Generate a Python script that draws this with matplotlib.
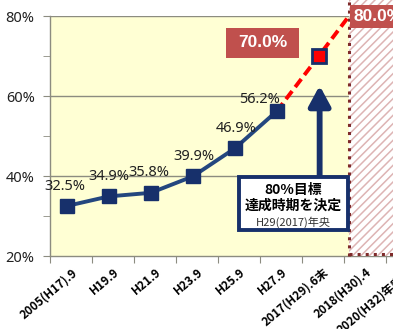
import numpy as np
import matplotlib
matplotlib.use("Agg")
import matplotlib.pyplot as plt
import matplotlib.patches as mpatches

plt.rcParams['font.family'] = ['Noto Sans', 'Noto Sans CJK JP', 'DejaVu Sans']
plt.rcParams['hatch.linewidth'] = 1.1

# survey periods on the x axis
periods = ['2005(H17).9', 'H19.9', 'H21.9', 'H23.9', 'H25.9', 'H27.9',
           '2017(H29).6末', '2018(H30).4', '2020(H32)年度末']
# measured rate (%)
actual = [32.5, 34.9, 35.8, 39.9, 46.9, 56.2]
# planned path: last measured value -> 70% -> 80%
target = [56.2, 70.0, 80.0]
target_pos = [5.4, 6.4, 7.12]
goal_label = '80.0%'
mid_label = '70.0%'
note_lines = ['80%目標', '達成時期を決定', 'H29(2017)年央']

navy = '#17306B'
line_blue = '#24477F'
box_red = '#C0504D'
jp = ['Noto Sans CJK JP', 'DejaVu Sans']
heavy = ['Liberation Sans', 'DejaVu Sans']

fig = plt.figure(figsize=(3.93, 3.29), dpi=100)
ax = fig.add_axes([50 / 393, 73 / 329, 378 / 393, 240 / 329])
ax.set_facecolor('#FFFFD4')

x = np.arange(len(actual)) + 0.4
ax.set_xlim(0, len(periods))
ax.set_ylim(20, 80)

# grid lines at 40/60/80
for gy in (40, 60, 80):
    ax.axhline(gy, color='#8C8C80', lw=1.0, zorder=1)

ax.plot(target_pos, target, color='#FF0000', lw=2.8, ls=(0, (2.6, 1.3)), zorder=3)
ax.plot(x, actual, color=line_blue, lw=2.8, marker='s', ms=10,
        mfc=navy, mec=navy, zorder=4)
ax.plot(target_pos[1], target[1], marker='s', ms=10, mfc='#FF0000',
        mec=navy, mew=2, zorder=5)

# value labels above the markers
offsets = [(-2, 20), (0, 20), (-2, 20), (1, 20), (1, 20), (-17, 12)]
for xi, v, (dx, dy) in zip(x, actual, offsets):
    ax.annotate(f'{v:.1f}%', (xi, v), xytext=(dx * 0.72, dy * 0.72),
                textcoords='offset points', ha='center', va='center',
                fontsize=10.5, color='#222222', zorder=6)

# hatched zone for the final target period
zone_x = target_pos[2]
zone = mpatches.Rectangle((zone_x, 20), 3, 64, facecolor='white',
                          edgecolor='#DDB4B4', hatch='////', lw=0,
                          clip_on=False, zorder=7)
ax.add_patch(zone)
ax.plot([zone_x, zone_x], [20, 84], color='#7F2A2A', lw=2.2, ls=':',
        clip_on=False, zorder=8)
ax.plot([zone_x, 9], [20.4, 20.4], color='#7F2A2A', lw=2.2, ls=':',
        clip_on=False, zorder=8)

# 80.0% label box
ax.add_patch(mpatches.Rectangle((zone_x + 0.02, 77.0), 3, 5.8, facecolor=box_red,
                                lw=0, clip_on=False, zorder=9))
ax.text(zone_x + 0.1, 79.9, goal_label, color='white', fontsize=12.5,
        fontweight='bold', family=heavy, ha='left', va='center',
        zorder=10, clip_on=False)

# 70.0% label box
ax.add_patch(mpatches.Rectangle((4.2, 69.5), 1.72, 7.5, facecolor=box_red,
                                lw=0, zorder=9))
ax.text(5.06, 73.3, mid_label, color='white', fontsize=12.5,
        fontweight='bold', family=heavy, ha='center', va='center', zorder=10)

# arrow up to the 70% point
ax.annotate('', xy=(6.42, 62.6), xytext=(6.42, 39.8),
            arrowprops=dict(arrowstyle='-|>,head_length=1.2,head_width=0.65',
                            color=navy, lw=4.2, shrinkA=0, shrinkB=0),
            zorder=9)

# note box below the arrow
ax.add_patch(mpatches.Rectangle((4.5, 26.5), 2.6, 13.3, facecolor='white',
                                edgecolor=navy, lw=2.8, zorder=9))
ax.text(5.8, 36.5, note_lines[0], fontsize=10, fontweight='bold',
        ha='center', va='center', zorder=10, family=jp)
ax.text(5.8, 32.6, note_lines[1], fontsize=10, fontweight='bold',
        ha='center', va='center', zorder=10, family=jp)
ax.text(5.8, 28.5, note_lines[2], fontsize=8, color='#333333',
        ha='center', va='center', zorder=10, family=jp)

# axes styling
for side in ('top', 'right'):
    ax.spines[side].set_visible(False)
for side in ('left', 'bottom'):
    ax.spines[side].set_color('#8C8C80')
    ax.spines[side].set_linewidth(1.0)

ax.set_yticks([20, 40, 60, 80])
ax.set_yticklabels([f'{v}%' for v in (20, 40, 60, 80)])
ax.set_yticks([30, 50, 70], minor=True)
ax.tick_params(axis='y', which='both', length=5, color='#8C8C80',
               labelsize=10.5, pad=6, labelcolor='#222222')

ax.set_xticks(np.arange(len(periods) + 1))
ax.set_xticklabels([])
ax.set_xticks(np.arange(len(periods)) + 0.5, minor=True)
ax.set_xticklabels(periods, minor=True, rotation=40, ha='right',
                   rotation_mode='anchor', fontsize=8.5, fontweight='bold',
                   family=jp)
ax.tick_params(axis='x', which='major', length=5, color='#8C8C80')
ax.tick_params(axis='x', which='minor', length=0, pad=7)

fig.savefig('out.png', dpi=100)
